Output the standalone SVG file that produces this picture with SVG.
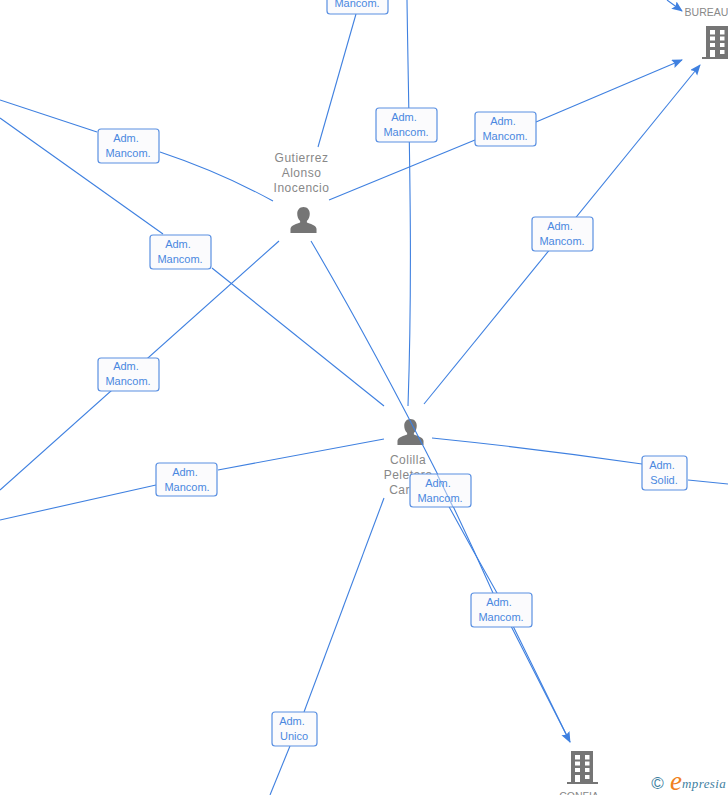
<svg xmlns="http://www.w3.org/2000/svg" width="728" height="795" viewBox="0 0 728 795">
<style>
.c{fill:none;stroke:#3f80e0;stroke-width:1.1}
.b{fill:#fbfbfd;stroke:#5a90e2;stroke-width:1.2}
.l{font:11px "Liberation Sans",Arial,sans-serif;fill:#4a88e0;text-anchor:middle}
.n{font:12px "Liberation Sans",Arial,sans-serif;fill:#888;text-anchor:middle;letter-spacing:.5px}
.s{font:10.500px "Liberation Sans",Arial,sans-serif;fill:#888;text-anchor:middle}
.i{fill:#757575}
</style>
<defs>
<marker id="a" markerWidth="12" markerHeight="10" refX="10" refY="4.500" orient="auto" markerUnits="userSpaceOnUse"><path d="M0 0L11 4.500L0 9L2 4.500Z" fill="#3f80e0"/></marker>
<symbol id="person" viewBox="0 0 28 28"><path d="M14 0c4 0 6.500 3 6.500 7 0 3-1 5.500-3 7.500v1.500c3 1.500 9.500 2.500 10 6.500v4.500H.5v-4.500c.5-4 7-5 10-6.500v-1.500c-2-2-3-4.500-3-7.500 0-4 2.500-7 6.500-7z"/></symbol>
<symbol id="bld" viewBox="0 0 32 34"><path fill-rule="evenodd" d="M5 0h22v31h5v2H1v-2h4zM9 4v4.500h5V4zM19 4v4.500h4.500V4zM9 10.500v4h5v-4zM19 10.500v4h4.500v-4zM9 17v4h5v-4zM19 17v4h4.500v-4zM9 24v7h5v-7zM19 24v4h4.500v-4z"/></symbol>
</defs>
<g id="connectors">
<path class="c" d="M407 0C409 140 413 260 408 406"/>
<path class="c" d="M356 14L318 147"/>
<path class="c" d="M329 200L475 140"/>
<path class="c" d="M536 122L682 60" marker-end="url(#a)"/>
<path class="c" d="M424 404L700 65" marker-end="url(#a)"/>
<path class="c" d="M0 100L97 132"/>
<path class="c" d="M160 152Q220 172 273 201"/>
<path class="c" d="M0 118L163 234"/>
<path class="c" d="M212 268L384 406"/>
<path class="c" d="M279 241L0 490"/>
<path class="c" d="M384 439L218 470"/>
<path class="c" d="M156 485L0 520"/>
<path class="c" d="M432 438Q540 449 642 464"/>
<path class="c" d="M688 480L728 484"/>
<path class="c" d="M384 498L304 712"/>
<path class="c" d="M290 746L270 795"/>
<path class="c" d="M667 0L682 11" marker-end="url(#a)"/>
</g>
<g id="n-gutierrez"><use href="#person" x="290" y="207" width="27" height="27" class="i"/><text class="n" x="301.500" y="162">Gutierrez</text><text class="n" x="301.500" y="177">Alonso</text><text class="n" x="301.500" y="192">Inocencio</text></g>
<g id="n-colilla"><use href="#person" x="397" y="419" width="27" height="27" class="i"/><text class="n" x="408" y="464">Colilla</text><text class="n" x="408" y="479">Peletero</text><text class="n" x="408" y="494">Carlos</text></g>
<g id="connectors-over">
<path class="c" d="M311 241Q372 345 437 473Q465 530 493 593L512 628L570 742" marker-end="url(#a)"/>
<path class="c" d="M440 490Q468 542 497 593L514 628L570 742"/>
</g>
<g id="n-bureau"><use href="#bld" x="701" y="26" width="32" height="34" class="i"/><text class="s" x="706.500" y="16">BUREAU</text></g>
<g id="n-confia"><use href="#bld" x="566" y="751" width="32" height="34" class="i"/><text class="s" x="579" y="800">CONFIA</text></g>
<g id="e1"><rect class="b" x="327" y="-20" width="61" height="34" rx="3"/><text class="l" x="357" y="7">Mancom.</text></g>
<g id="e2"><rect class="b" x="376" y="108" width="61" height="34" rx="3"/><text class="l" x="404" y="121">Adm.</text><text class="l" x="406" y="136">Mancom.</text></g>
<g id="e3"><rect class="b" x="475" y="112" width="61" height="34" rx="3"/><text class="l" x="503" y="125">Adm.</text><text class="l" x="505" y="140">Mancom.</text></g>
<g id="e4"><rect class="b" x="98" y="129" width="61" height="34" rx="3"/><text class="l" x="126" y="142">Adm.</text><text class="l" x="128" y="157">Mancom.</text></g>
<g id="e5"><rect class="b" x="150" y="235" width="61" height="34" rx="3"/><text class="l" x="178" y="248">Adm.</text><text class="l" x="180" y="263">Mancom.</text></g>
<g id="e6"><rect class="b" x="532" y="217" width="61" height="34" rx="3"/><text class="l" x="560" y="230">Adm.</text><text class="l" x="562" y="245">Mancom.</text></g>
<g id="e7"><rect class="b" x="98" y="358" width="61" height="33" rx="3"/><text class="l" x="126" y="370">Adm.</text><text class="l" x="128" y="385">Mancom.</text></g>
<g id="e8"><rect class="b" x="156" y="463" width="61" height="33" rx="3"/><text class="l" x="185" y="476">Adm.</text><text class="l" x="187" y="491">Mancom.</text></g>
<g id="e9"><rect class="b" x="410" y="474" width="61" height="33" rx="3"/><path class="c" d="M437 474L453 507" opacity=".55"/><text class="l" x="438" y="487">Adm.</text><text class="l" x="440" y="502">Mancom.</text></g>
<g id="e10"><rect class="b" x="642" y="456" width="45" height="34" rx="3"/><text class="l" x="662" y="469">Adm.</text><text class="l" x="664" y="484">Solid.</text></g>
<g id="e11"><rect class="b" x="471" y="593" width="61" height="34" rx="3"/><text class="l" x="499" y="606">Adm.</text><text class="l" x="501" y="621">Mancom.</text></g>
<g id="e12"><rect class="b" x="272" y="712" width="45" height="34" rx="3"/><text class="l" x="292" y="725">Adm.</text><text class="l" x="294" y="740">Unico</text></g>
<g id="logo"><text x="657.500" y="789" font-family="Liberation Sans,sans-serif" font-size="17" fill="#3f7f9f" text-anchor="middle">©</text><text x="670" y="790" font-family="Liberation Serif,serif" font-style="italic" font-size="27" fill="#f08020">e</text><text x="682" y="788" font-family="Liberation Serif,serif" font-style="italic" font-size="13" fill="#3f7f9f" letter-spacing=".4">mpresia</text></g>
</svg>
